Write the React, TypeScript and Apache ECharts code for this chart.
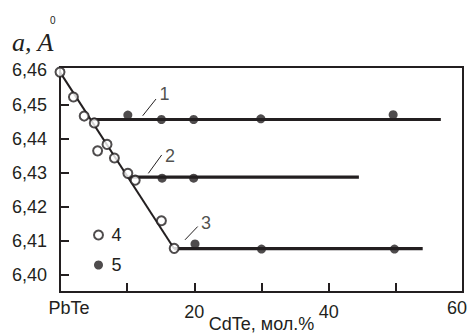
import React, { useEffect, useRef } from "react";
import * as echarts from "echarts";

const INK = "#231f20";

// Open circles (series 4): [CdTe mol.%, lattice parameter a, Å]
const openPoints: number[][] = [
  [0, 6.4595], [2.0, 6.4522], [3.6, 6.4466], [5.1, 6.4446], [5.6, 6.4364],
  [7.0, 6.4383], [8.1, 6.4343], [10.1, 6.4298], [11.2, 6.4278], [15.1, 6.4159],
  [17.0, 6.4078],
];
// Filled circles (series 5)
const filledPoints: number[][] = [
  [10.1, 6.4469], [15.1, 6.4456], [19.9, 6.4456], [29.9, 6.4458], [49.6, 6.447],
  [15.2, 6.4284], [19.9, 6.4284],
  [20.1, 6.4091], [30.0, 6.4076], [49.8, 6.4076],
];
// Fitted lines
const diagonalLine: number[][] = [[0, 6.4595], [17.0, 6.4077]];
const line1: number[][] = [[4.7, 6.4456], [56.7, 6.4456]];
const line2: number[][] = [[10.2, 6.4287], [44.5, 6.4287]];
const line3: number[][] = [[17.0, 6.4077], [54.0, 6.4077]];
// Leader lines and their labels
const leader1: number[][] = [[12.31, 6.4467], [14.29, 6.4516]];
const leader2: number[][] = [[13.15, 6.4298], [15.14, 6.4352]];
const leader3: number[][] = [[18.61, 6.4103], [20.5, 6.4142]];
const curveLabels = [
  { name: "1", value: [15.56, 6.4531] },
  { name: "2", value: [16.38, 6.4349] },
  { name: "3", value: [21.74, 6.4152] },
];
// Axis ticks / labels
const xTickValues = [10, 20, 30, 40, 50];
const xLabelValues = [0, 20, 40, 60];
const yTickValues = [6.4, 6.41, 6.42, 6.43, 6.44, 6.45];
const yLabelValues = [6.4, 6.41, 6.42, 6.43, 6.44, 6.45, 6.46];

const FONT = "Liberation Sans, Arial, sans-serif";

export default function App() {
  const ref = useRef<HTMLDivElement>(null);
  useEffect(() => {
    if (!ref.current) return;
    const chart = echarts.init(ref.current, undefined, { renderer: "svg" });
    const lineSeries = (data: number[][], width: number) => ({
      type: "line",
      data,
      symbol: "none",
      silent: true,
      lineStyle: { color: INK, width },
      z: 2,
    });
    chart.setOption({
      animation: false,
      backgroundColor: "#fff",
      grid: {
        left: 60,
        right: 8,
        top: 67,
        bottom: 41,
        outerBoundsMode: "none",
        containLabel: false,
        show: true,
        borderColor: INK,
        borderWidth: 2,
        backgroundColor: "transparent",
      },
      xAxis: {
        type: "value",
        min: 0,
        max: 60,
        name: "CdTe, мол.%",
        nameLocation: "middle",
        nameGap: 23,
        nameMoveOverlap: false,
        nameTextStyle: { fontFamily: FONT, fontSize: 18, color: INK },
        splitLine: { show: false },
        axisLine: { lineStyle: { color: INK, width: 2 } },
        axisTick: {
          inside: true,
          length: 9,
          customValues: xTickValues,
          lineStyle: { color: INK, width: 2 },
        },
        axisLabel: {
          customValues: xLabelValues,
          margin: 7,
          fontFamily: FONT,
          fontSize: 18,
          color: INK,
          formatter: (v: number) => {
            if (v === 0) return "{p|PbTe}";
            if (v === 60) return "{r|60}";
            return "{m|" + v + "}";
          },
          rich: {
            p: { fontFamily: FONT, fontSize: 18, color: INK, padding: [0, 0, 0, 18] },
            m: { fontFamily: FONT, fontSize: 18, color: INK, padding: [4, 0, 0, 0] },
            r: { fontFamily: FONT, fontSize: 18, color: INK, padding: [0, 12, 0, 0] },
          },
        },
      },
      yAxis: {
        type: "value",
        min: 6.395,
        max: 6.461,
        splitLine: { show: false },
        axisLine: { show: true, lineStyle: { color: INK, width: 2 } },
        axisTick: {
          show: true,
          inside: true,
          length: 9,
          customValues: yTickValues,
          lineStyle: { color: INK, width: 2 },
        },
        axisLabel: {
          customValues: yLabelValues,
          margin: 13,
          fontFamily: FONT,
          fontSize: 18,
          color: INK,
          formatter: (v: number) => v.toFixed(2).replace(".", ","),
        },
      },
      legend: {
        data: ["4", "5"],
        orient: "vertical",
        left: 93,
        top: 226,
        padding: 0,
        itemGap: 12,
        itemWidth: 10,
        itemHeight: 9,
        selectedMode: false,
        textStyle: { fontFamily: FONT, fontSize: 18, color: INK, padding: [0, 0, 0, 3] },
      },
      graphic: [
        {
          type: "text",
          left: 12,
          top: 29,
          style: {
            text: "a, A",
            font: "italic 26px 'Liberation Serif', 'Times New Roman', serif",
            fill: INK,
          },
        },
        {
          type: "text",
          left: 50,
          top: 15,
          style: {
            text: "0",
            font: "10px 'Liberation Sans', Arial, sans-serif",
            fill: INK,
          },
        },
      ],
      series: [
        lineSeries(diagonalLine, 2),
        lineSeries(line1, 3.2),
        lineSeries(line2, 3.2),
        lineSeries(line3, 3.2),
        lineSeries(leader1, 1),
        lineSeries(leader2, 1),
        lineSeries(leader3, 1),
        {
          type: "scatter",
          data: curveLabels,
          symbolSize: 0,
          silent: true,
          label: {
            show: true,
            position: "inside",
            formatter: "{b}",
            fontFamily: FONT,
            fontSize: 18,
            color: INK,
          },
        },
        {
          name: "4",
          type: "scatter",
          data: openPoints,
          symbol: "circle",
          symbolSize: 9,
          clip: false,
          itemStyle: { color: "#ffffff", borderColor: INK, borderWidth: 2 },
          z: 5,
        },
        {
          name: "5",
          type: "scatter",
          data: filledPoints,
          symbol: "circle",
          symbolSize: 9,
          clip: false,
          itemStyle: { color: INK },
          z: 5,
        },
      ],
    });
    return () => chart.dispose();
  }, []);
  return (
    <div
      ref={ref}
      style={{ position: "absolute", left: 0, top: 0, width: 471, height: 333, background: "#fff" }}
    />
  );
}
